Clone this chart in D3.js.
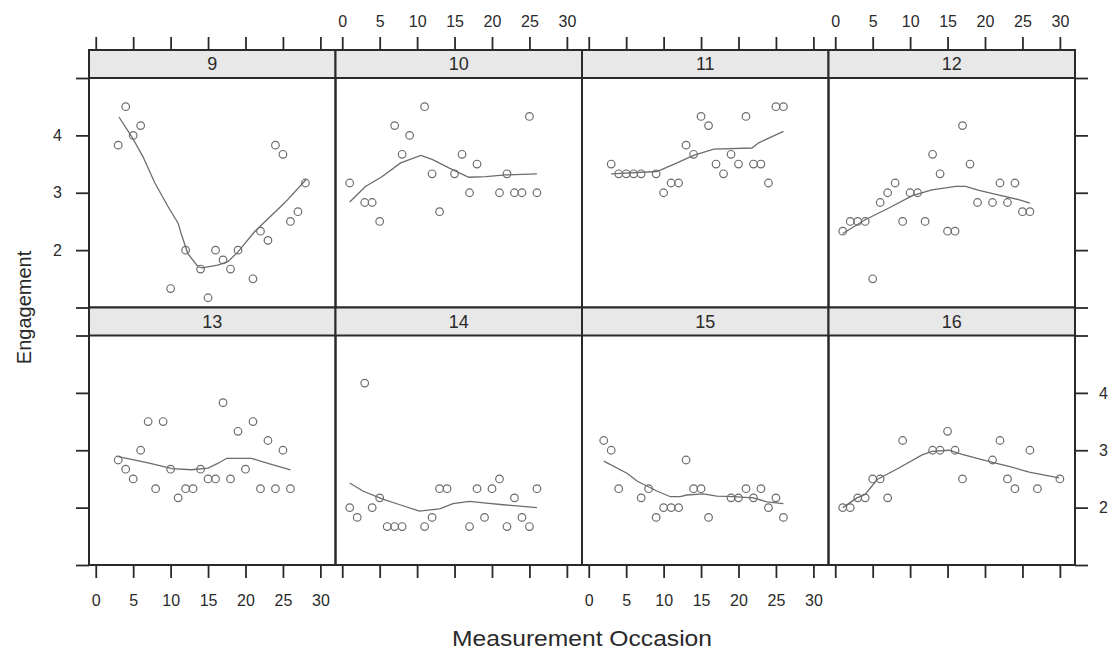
<!DOCTYPE html>
<html>
<head>
<meta charset="utf-8">
<script src="https://cdn.jsdelivr.net/npm/d3@7"></script>
<style>
  html, body { margin: 0; padding: 0; background: #ffffff; }
  svg { display: block; }
  text { font-family: "Liberation Sans", Arial, Helvetica, sans-serif; fill: #2a2a2a; }
</style>
</head>
<body>
<svg id="chart" width="1115" height="656"></svg>
<script>
// ---------------- DATA ----------------
const panelIds = ["9", "10", "11", "12", "13", "14", "15", "16"];
const xTicks = [0, 5, 10, 15, 20, 25, 30];
const yTicks = [1, 2, 3, 4, 5];
const yTickLabels = ["", "2", "3", "4", ""];
const xTitle = "Measurement Occasion";
const yTitle = "Engagement";

// observed points: [occasion, engagement]
const pts9 = [[4,4.5],[6,4.17],[5,4.0],[3,3.83],[24,3.83],[25,3.67],[28,3.17],[27,2.67],[26,2.5],[22,2.33],[23,2.17],[12,2.0],[16,2.0],[19,2.0],[17,1.83],[14,1.67],[18,1.67],[21,1.5],[10,1.33],[15,1.17]];
const pts10 = [[11,4.5],[25,4.33],[7,4.17],[9,4.0],[8,3.67],[16,3.67],[18,3.5],[12,3.33],[15,3.33],[22,3.33],[1,3.17],[17,3.0],[21,3.0],[23,3.0],[24,3.0],[26,3.0],[3,2.83],[4,2.83],[13,2.67],[5,2.5]];
const pts11 = [[25,4.5],[26,4.5],[15,4.33],[21,4.33],[16,4.17],[13,3.83],[14,3.67],[19,3.67],[3,3.5],[17,3.5],[20,3.5],[22,3.5],[23,3.5],[4,3.33],[5,3.33],[6,3.33],[7,3.33],[9,3.33],[18,3.33],[11,3.17],[12,3.17],[24,3.17],[10,3.0]];
const pts12 = [[17,4.17],[13,3.67],[18,3.5],[14,3.33],[8,3.17],[22,3.17],[24,3.17],[7,3.0],[10,3.0],[11,3.0],[6,2.83],[19,2.83],[21,2.83],[23,2.83],[25,2.67],[26,2.67],[2,2.5],[3,2.5],[4,2.5],[9,2.5],[12,2.5],[1,2.33],[15,2.33],[16,2.33],[5,1.5]];
const pts13 = [[17,3.83],[7,3.5],[9,3.5],[21,3.5],[19,3.33],[23,3.17],[6,3.0],[25,3.0],[3,2.83],[4,2.67],[10,2.67],[14,2.67],[20,2.67],[5,2.5],[15,2.5],[16,2.5],[18,2.5],[8,2.33],[12,2.33],[13,2.33],[22,2.33],[24,2.33],[26,2.33],[11,2.17]];
const pts14 = [[3,4.17],[21,2.5],[13,2.33],[14,2.33],[18,2.33],[20,2.33],[26,2.33],[5,2.17],[23,2.17],[1,2.0],[4,2.0],[2,1.83],[12,1.83],[19,1.83],[24,1.83],[6,1.67],[7,1.67],[8,1.67],[11,1.67],[17,1.67],[22,1.67],[25,1.67]];
const pts15 = [[2,3.17],[3,3.0],[13,2.83],[4,2.33],[8,2.33],[14,2.33],[15,2.33],[21,2.33],[23,2.33],[7,2.17],[19,2.17],[20,2.17],[22,2.17],[25,2.17],[10,2.0],[11,2.0],[12,2.0],[24,2.0],[9,1.83],[16,1.83],[26,1.83]];
const pts16 = [[15,3.33],[9,3.17],[22,3.17],[13,3.0],[14,3.0],[16,3.0],[26,3.0],[21,2.83],[5,2.5],[6,2.5],[17,2.5],[23,2.5],[30,2.5],[24,2.33],[27,2.33],[3,2.17],[4,2.17],[7,2.17],[1,2.0],[2,2.0]];

// smooth (loess) curves: [occasion, engagement]
const fit9 = [[3.1,4.32],[4.8,3.98],[6.3,3.63],[7.9,3.17],[9.65,2.76],[11,2.47],[11.4,2.29],[12.3,1.94],[13.65,1.71],[14.2,1.69],[16.3,1.74],[17.65,1.80],[19,1.97],[21.2,2.32],[25.2,2.82],[28.1,3.23]];
const fit10 = [[1,2.84],[3.1,3.11],[5.3,3.28],[7.8,3.52],[10.5,3.65],[12,3.58],[14.3,3.43],[16.9,3.27],[19.2,3.28],[21.8,3.31],[26,3.33]];
const fit11 = [[3,3.33],[9.1,3.37],[11.8,3.52],[14,3.65],[16.7,3.76],[21.8,3.78],[22.7,3.87],[26,4.07]];
const fit12 = [[1,2.29],[4,2.53],[7.1,2.73],[10.3,2.95],[12.9,3.05],[16.1,3.11],[17.4,3.11],[19.2,3.04],[21.9,2.96],[24.5,2.88],[26,2.82]];
const fit13 = [[3,2.89],[7,2.78],[10.2,2.68],[12.8,2.66],[15,2.69],[16.3,2.77],[17.5,2.86],[20.8,2.86],[23,2.77],[26,2.66]];
const fit14 = [[1,2.43],[2.75,2.29],[5.4,2.15],[7.7,2.05],[10.3,1.94],[13,1.98],[14.8,2.07],[17,2.11],[19.25,2.08],[21.5,2.05],[26,2.0]];
const fit15 = [[2,2.81],[5.1,2.6],[6.5,2.46],[9.1,2.29],[10.9,2.19],[12.2,2.19],[13.1,2.22],[15.3,2.24],[17.1,2.2],[19.3,2.19],[22,2.17],[23.8,2.1],[26,2.07]];
const fit16 = [[1,2.0],[2.9,2.17],[4,2.23],[5.6,2.49],[8.5,2.69],[11.6,2.92],[12.9,2.98],[15.2,3.0],[16.95,2.93],[19.2,2.85],[21,2.79],[23.2,2.72],[25.9,2.62],[29.9,2.52]];

const points = [pts9, pts10, pts11, pts12, pts13, pts14, pts15, pts16];
const fits = [fit9, fit10, fit11, fit12, fit13, fit14, fit15, fit16];

// ---------------- LAYOUT ----------------
const frameL = 89, frameR = 1075;
const nCols = 4;
const panelW = (frameR - frameL) / nCols;
const rows = [
  { stripTop: 50, panelTop: 78, panelBottom: 307.5 },
  { stripTop: 307.5, panelTop: 335.5, panelBottom: 565 }
];
const xDomain = [-0.9, 32.02];
const yDomain = [1, 5];
const tickLen = 13;
const ink = "#2a2a2a";
const markCol = "#6c6c6c";

const svg = d3.select("#chart");

const panelsG = svg.append("g");
const lineGen = d3.line();

panelIds.forEach((id, i) => {
  const r = Math.floor(i / nCols), c = i % nCols;
  const row = rows[r];
  const x0 = frameL + c * panelW;
  const x = d3.scaleLinear().domain(xDomain).range([x0, x0 + panelW]);
  const y = d3.scaleLinear().domain(yDomain).range([row.panelBottom, row.panelTop]);
  const g = panelsG.append("g");

  // strip
  g.append("rect")
    .attr("x", x0).attr("y", row.stripTop)
    .attr("width", panelW).attr("height", row.panelTop - row.stripTop)
    .attr("fill", "#e8e8e8");
  g.append("text")
    .attr("x", x0 + panelW / 2).attr("y", (row.stripTop + row.panelTop) / 2)
    .attr("dy", "0.36em")
    .attr("text-anchor", "middle")
    .style("font-size", "18px")
    .text(id);

  // marks
  const clipId = "clip" + id;
  g.append("clipPath").attr("id", clipId).append("rect")
    .attr("x", x0).attr("y", row.panelTop)
    .attr("width", panelW).attr("height", row.panelBottom - row.panelTop);
  const mg = g.append("g").attr("clip-path", `url(#${clipId})`);
  mg.selectAll("circle").data(points[i]).join("circle")
    .attr("cx", d => x(d[0])).attr("cy", d => y(d[1]))
    .attr("r", 3.8)
    .attr("fill", "none")
    .attr("stroke", markCol)
    .attr("stroke-width", 1.2);
  mg.append("path")
    .attr("d", lineGen.x(d => x(d[0])).y(d => y(d[1]))(fits[i]))
    .attr("fill", "none")
    .attr("stroke", markCol)
    .attr("stroke-width", 1.3);

  // borders
  g.append("rect")
    .attr("x", x0).attr("y", row.stripTop)
    .attr("width", panelW).attr("height", row.panelBottom - row.stripTop)
    .attr("fill", "none").attr("stroke", ink).attr("stroke-width", 2);
  g.append("line")
    .attr("x1", x0).attr("x2", x0 + panelW)
    .attr("y1", row.panelTop).attr("y2", row.panelTop)
    .attr("stroke", ink).attr("stroke-width", 2);

  // axes
  const styleAxis = sel => {
    sel.select(".domain").remove();
    sel.selectAll(".tick line").attr("stroke", ink).attr("stroke-width", 1.8);
    sel.selectAll(".tick text").style("font-size", "16px").attr("fill", ink);
  };
  if (r === 0) {
    const labelled = (c % 2 === 1);
    g.append("g").attr("transform", `translate(0,${row.stripTop})`)
      .call(d3.axisTop(x).tickValues(xTicks).tickSize(tickLen).tickPadding(10)
        .tickFormat(labelled ? d3.format("d") : () => ""))
      .call(styleAxis);
  }
  if (r === rows.length - 1) {
    const labelled = (c % 2 === 0);
    g.append("g").attr("transform", `translate(0,${row.panelBottom})`)
      .call(d3.axisBottom(x).tickValues(xTicks).tickSize(tickLen).tickPadding(17)
        .tickFormat(labelled ? d3.format("d") : () => ""))
      .call(styleAxis);
  }
  if (c === 0) {
    const labelled = (r % 2 === 0);
    g.append("g").attr("transform", `translate(${x0},0)`)
      .call(d3.axisLeft(y).tickValues(yTicks).tickSize(tickLen).tickPadding(14)
        .tickFormat((d, k) => labelled ? yTickLabels[k] : ""))
      .call(styleAxis);
  }
  if (c === nCols - 1) {
    const labelled = (r % 2 === 1);
    g.append("g").attr("transform", `translate(${x0 + panelW},0)`)
      .call(d3.axisRight(y).tickValues(yTicks).tickSize(tickLen).tickPadding(11)
        .tickFormat((d, k) => labelled ? yTickLabels[k] : ""))
      .call(styleAxis);
  }
});

// axis titles
svg.append("text")
  .attr("x", (frameL + frameR) / 2).attr("y", 646)
  .attr("text-anchor", "middle")
  .attr("textLength", 260)
  .attr("lengthAdjust", "spacingAndGlyphs")
  .style("font-size", "22px")
  .text(xTitle);
svg.append("text")
  .attr("transform", `translate(31,${(rows[0].stripTop + rows[1].panelBottom) / 2}) rotate(-90)`)
  .attr("text-anchor", "middle")
  .style("font-size", "20px")
  .text(yTitle);
</script>
</body>
</html>
